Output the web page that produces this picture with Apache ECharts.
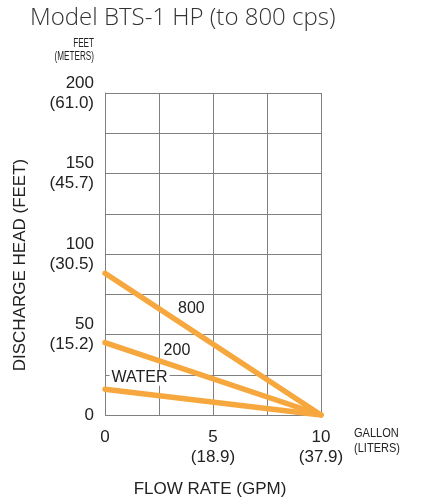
<!DOCTYPE html>
<html>
<head>
<meta charset="utf-8">
<script src="https://cdn.jsdelivr.net/npm/echarts@6/dist/echarts.min.js"></script>
<style>
html,body{margin:0;padding:0;background:#fff;}
#chart{width:424px;height:502px;}
</style>
</head>
<body>
<div id="chart"></div>
<script>
// Flow rate (GPM) and discharge head (feet)
const flowGPM = [0, 10];
const head800 = [88, 0];
const head200 = [45, 0];
const headWater = [16, 0];
const seriesNames = ['800', '200', 'WATER'];
// label anchor points (data coords) for curve labels
const labelPos = [[4.0, 66.3], [3.33, 40.2], [1.6, 23.1]];
const yTickLabels = {0: '0', 50: '50\n(15.2)', 100: '100\n(30.5)', 150: '150\n(45.7)', 200: '200\n(61.0)'};
const xTickLabels = {0: '0', 5: '5\n(18.9)', 10: '10\n(37.9)'};

const orange = '#F6A83E';
const font = '"Liberation Sans Narrow", "Arial Narrow", sans-serif';

function mkSeries(name, vals, pos, bg) {
  return {
    name: name,
    type: 'line',
    data: flowGPM.map((x, i) => [x, vals[i]]),
    symbol: 'none',
    lineStyle: {color: orange, width: 5.5, cap: 'round'},
    silent: true,
    z: 3,
    markPoint: {
      symbol: 'rect', symbolSize: 0,
      data: [{coord: pos, value: name}],
      label: {
        show: true, position: 'inside', formatter: name,
        color: '#222', fontFamily: font, fontSize: 16,
        backgroundColor: bg ? '#fff' : 'transparent',
        padding: bg ? [0, 2, 0, 2] : 0
      }
    }
  };
}

const chart = echarts.init(document.getElementById('chart'));
chart.setOption({
  animation: false,
  backgroundColor: '#fff',
  grid: {left: 105, right: 103, top: 93, bottom: 87},
  xAxis: {
    type: 'value', min: 0, max: 10, interval: 2.5,
    axisLine: {show: false}, axisTick: {show: false},
    splitLine: {show: true, lineStyle: {color: '#808080', width: 1}},
    axisLabel: {
      margin: 12, color: '#222', fontFamily: font, fontSize: 17, lineHeight: 20,
      formatter: v => xTickLabels[v] !== undefined ? xTickLabels[v] : '',
      showMinLabel: true, showMaxLabel: true
    }
  },
  yAxis: {
    type: 'value', min: 0, max: 200, interval: 25,
    axisLine: {show: true, lineStyle: {color: '#808080', width: 1}}, axisTick: {show: false},
    splitLine: {show: true, lineStyle: {color: '#808080', width: 1}},
    axisLabel: {
      margin: 11, color: '#222', fontFamily: font, fontSize: 17, lineHeight: 20, align: 'right',
      formatter: v => yTickLabels[v] !== undefined ? yTickLabels[v] : ''
    }
  },
  series: [
    mkSeries(seriesNames[0], head800, labelPos[0], false),
    mkSeries(seriesNames[1], head200, labelPos[1], false),
    mkSeries(seriesNames[2], headWater, labelPos[2], true)
  ],
  graphic: [
    {type: 'text', x: 30, y: 18, style: {text: 'Model BTS-1 HP (to 800 cps)', fill: '#333', font: '300 24px "Open Sans", sans-serif', verticalAlign: 'middle'}},
    {type: 'text', x: 94, y: 37, scaleX: 0.68, style: {text: 'FEET\n(METERS)', fill: '#222', font: '12px ' + font, align: 'right', lineHeight: 13}},
    {type: 'text', x: 20, y: 265, rotation: Math.PI / 2, style: {text: 'DISCHARGE HEAD (FEET)', fill: '#222', font: '17px ' + font, align: 'center', verticalAlign: 'middle'}},
    {type: 'text', x: 210, y: 489, style: {text: 'FLOW RATE (GPM)', fill: '#222', font: '17px ' + font, align: 'center', verticalAlign: 'middle'}},
    {type: 'text', x: 354, y: 426, scaleX: 0.85, style: {text: 'GALLONS\n(LITERS)', fill: '#222', font: '13px ' + font, lineHeight: 15, width: 57, overflow: 'truncate', ellipsis: ''}}
  ]
});
</script>
</body>
</html>
